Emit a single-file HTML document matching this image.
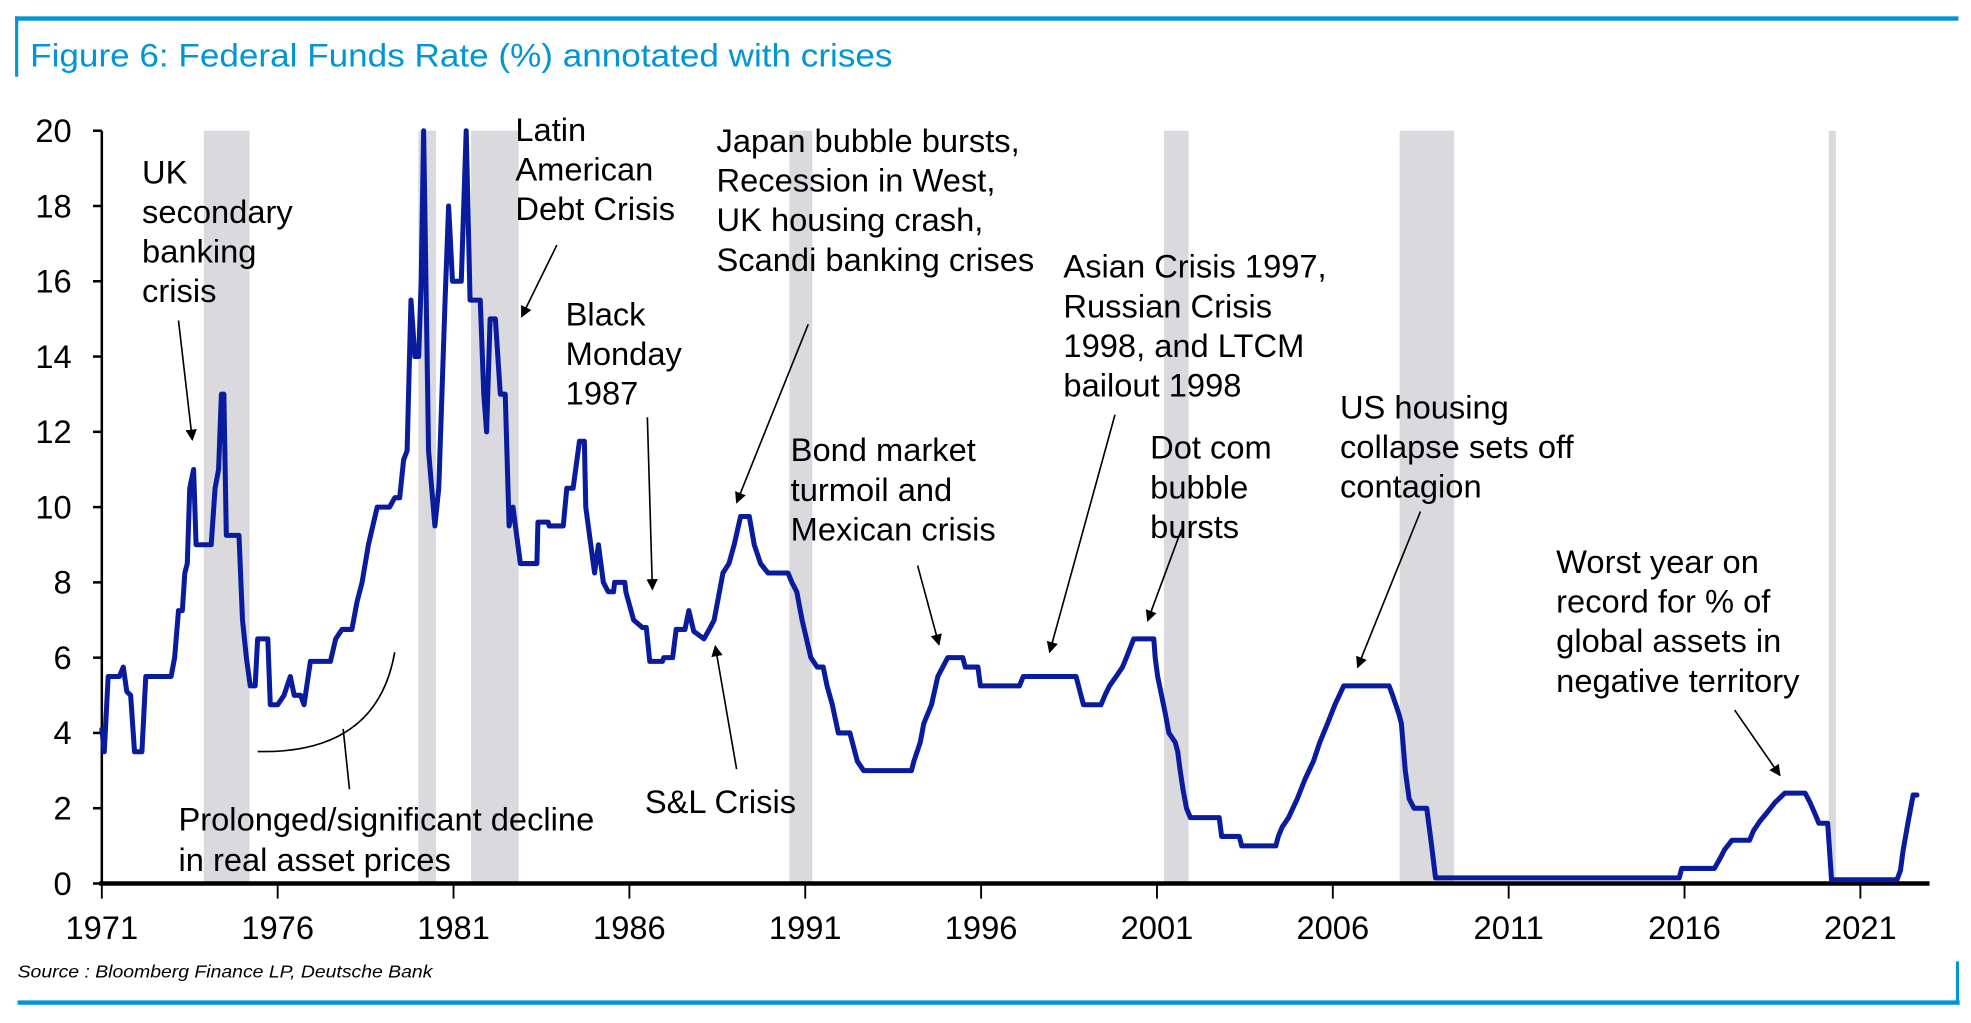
<!DOCTYPE html>
<html><head><meta charset="utf-8"><style>
html,body{margin:0;padding:0;background:#fff;}
svg{display:block;}
text{font-family:"Liberation Sans",sans-serif;fill:#000;}
</style></head><body>
<svg id="chart" width="1971" height="1023" viewBox="0 0 1568 814" preserveAspectRatio="none" xmlns="http://www.w3.org/2000/svg">
<defs><marker id="ah" viewBox="0 0 10 10" refX="9" refY="5" markerWidth="7" markerHeight="7" orient="auto"><path d="M0,0L10,5L0,10z" fill="#000"/></marker></defs>
<g>
<rect x="12" y="13" width="1546" height="3.5" fill="#0096d6"/>
<rect x="12" y="13" width="2.5" height="48" fill="#0096d6"/>
<text x="24" y="53" font-size="26" style="fill:#0096d6" textLength="686" lengthAdjust="spacingAndGlyphs">Figure 6: Federal Funds Rate (%) annotated with crises</text>
</g>
<g id="shades"></g>
<g id="axes"></g>
<g id="series"></g>
<g font-size="26">
<text x="113" y="146">UK<tspan x="113" dy="31.5">secondary</tspan><tspan x="113" dy="31.5">banking</tspan><tspan x="113" dy="31.5">crisis</tspan></text>
<text x="410" y="112">Latin<tspan x="410" dy="31.5">American</tspan><tspan x="410" dy="31.5">Debt Crisis</tspan></text>
<text x="450" y="259">Black<tspan x="450" dy="31.5">Monday</tspan><tspan x="450" dy="31.5">1987</tspan></text>
<text x="570" y="121">Japan bubble bursts,<tspan x="570" dy="31.5">Recession in West,</tspan><tspan x="570" dy="31.5">UK housing crash,</tspan><tspan x="570" dy="31.5">Scandi banking crises</tspan></text>
<text x="846" y="221">Asian Crisis 1997,<tspan x="846" dy="31.5">Russian Crisis</tspan><tspan x="846" dy="31.5">1998, and LTCM</tspan><tspan x="846" dy="31.5">bailout 1998</tspan></text>
<text x="629" y="367">Bond market<tspan x="629" dy="31.5">turmoil and</tspan><tspan x="629" dy="31.5">Mexican crisis</tspan></text>
<text x="915" y="365">Dot com<tspan x="915" dy="31.5">bubble</tspan><tspan x="915" dy="31.5">bursts</tspan></text>
<text x="1066" y="333">US housing<tspan x="1066" dy="31.5">collapse sets off</tspan><tspan x="1066" dy="31.5">contagion</tspan></text>
<text x="1238" y="456">Worst year on<tspan x="1238" dy="31.5">record for % of</tspan><tspan x="1238" dy="31.5">global assets in</tspan><tspan x="1238" dy="31.5">negative territory</tspan></text>
<text x="513" y="647">S&amp;L Crisis</text>
<text x="142" y="661">Prolonged/significant decline<tspan x="142" dy="32">in real asset prices</tspan></text>
</g>
<g stroke="#000" stroke-width="1.3" fill="none">
<line x1="142" y1="255" x2="153" y2="350" marker-end="url(#ah)"/>
<line x1="443" y1="195" x2="415" y2="252" marker-end="url(#ah)"/>
<line x1="515" y1="332" x2="519" y2="469" marker-end="url(#ah)"/>
<line x1="643" y1="258" x2="586" y2="400" marker-end="url(#ah)"/>
<line x1="730" y1="450" x2="747" y2="513" marker-end="url(#ah)"/>
<line x1="887" y1="330" x2="835" y2="519" marker-end="url(#ah)"/>
<line x1="940" y1="421" x2="913" y2="494" marker-end="url(#ah)"/>
<line x1="1130" y1="407" x2="1080" y2="531" marker-end="url(#ah)"/>
<line x1="1380" y1="565" x2="1416" y2="617" marker-end="url(#ah)"/>
<line x1="586" y1="612" x2="569" y2="514" marker-end="url(#ah)"/>
<line x1="278" y1="628" x2="273" y2="580"/>
<path d="M205,598 Q300,600 314,519"/>
</g>
<g>
<text x="14" y="778" font-size="14" font-style="italic" textLength="330" lengthAdjust="spacingAndGlyphs">Source : Bloomberg Finance LP, Deutsche Bank</text>
<rect x="14" y="796" width="1545" height="3.5" fill="#0096d6"/>
<rect x="1556" y="765" width="2.5" height="34" fill="#0096d6"/>
</g>
</svg>
<script>
const years = [1971.00,1971.07,1971.18,1971.50,1971.61,1971.71,1971.82,1971.93,1972.14,1972.25,1972.97,1973.07,1973.18,1973.29,1973.36,1973.43,1973.50,1973.61,1973.68,1974.11,1974.22,1974.32,1974.40,1974.47,1974.54,1974.90,1975.00,1975.11,1975.22,1975.36,1975.43,1975.72,1975.79,1976.00,1976.18,1976.36,1976.47,1976.65,1976.75,1976.93,1977.50,1977.65,1977.83,1978.11,1978.26,1978.40,1978.58,1978.83,1979.18,1979.33,1979.47,1979.58,1979.68,1979.79,1979.90,1980.01,1980.08,1980.15,1980.29,1980.47,1980.58,1980.76,1980.86,1980.97,1981.22,1981.36,1981.47,1981.76,1981.86,1981.94,1982.04,1982.19,1982.33,1982.47,1982.58,1982.69,1982.90,1983.37,1983.40,1983.69,1983.72,1984.12,1984.22,1984.40,1984.58,1984.72,1984.76,1985.01,1985.12,1985.26,1985.40,1985.55,1985.58,1985.87,1985.90,1986.12,1986.37,1986.48,1986.58,1986.94,1986.98,1987.23,1987.33,1987.58,1987.69,1987.83,1988.12,1988.30,1988.41,1988.51,1988.66,1988.83,1988.98,1989.16,1989.41,1989.55,1989.73,1989.94,1990.51,1990.62,1990.76,1990.91,1991.16,1991.34,1991.51,1991.62,1991.77,1991.94,1992.27,1992.34,1992.48,1992.66,1994.02,1994.09,1994.27,1994.37,1994.59,1994.77,1995.05,1995.48,1995.55,1995.91,1995.98,1997.09,1997.20,1998.70,1998.77,1998.91,1999.41,1999.52,1999.65,1999.84,2000.02,2000.13,2000.34,2000.91,2000.95,2001.02,2001.13,2001.24,2001.34,2001.52,2001.59,2001.66,2001.74,2001.84,2001.95,2002.77,2002.84,2003.34,2003.41,2004.38,2004.45,2004.56,2004.74,2004.99,2005.20,2005.45,2005.63,2005.85,2006.06,2006.31,2007.60,2007.70,2007.88,2007.95,2008.06,2008.17,2008.31,2008.67,2008.74,2008.81,2008.92,2015.85,2015.92,2016.85,2017.00,2017.14,2017.35,2017.85,2017.96,2018.14,2018.36,2018.57,2018.85,2019.43,2019.57,2019.71,2019.82,2020.07,2020.18,2022.04,2022.14,2022.21,2022.35,2022.50,2022.61];
const rates = [4.1,3.5,5.5,5.5,5.75,5.1,5.0,3.5,3.5,5.5,5.5,6.0,7.25,7.25,8.25,8.5,10.5,11.0,9.0,9.0,10.5,11.0,13.0,13.0,9.25,9.25,7.0,6.0,5.25,5.25,6.5,6.5,4.75,4.75,5.0,5.5,5.0,5.0,4.75,5.9,5.9,6.5,6.75,6.75,7.5,8.0,9.0,10.0,10.0,10.25,10.25,11.25,11.5,15.5,14.0,14.0,16.0,20.0,11.5,9.5,10.5,15.5,18.0,16.0,16.0,20.0,15.5,15.5,13.0,12.0,15.0,15.0,13.0,13.0,9.5,10.0,8.5,8.5,9.6,9.6,9.5,9.5,10.5,10.5,11.75,11.75,10.0,8.25,9.0,8.0,7.75,7.75,8.0,8.0,7.75,7.0,6.8,6.8,5.9,5.9,6.0,6.0,6.75,6.75,7.25,6.7,6.5,6.8,7.0,7.5,8.25,8.5,9.0,9.75,9.75,9.0,8.5,8.25,8.25,8.0,7.75,7.0,6.0,5.75,5.75,5.25,4.75,4.0,4.0,3.75,3.25,3.0,3.0,3.25,3.75,4.25,4.75,5.5,6.0,6.0,5.75,5.75,5.25,5.25,5.5,5.5,5.25,4.75,4.75,5.0,5.25,5.5,5.75,6.0,6.5,6.5,6.0,5.5,5.0,4.5,4.0,3.75,3.5,3.0,2.5,2.0,1.75,1.75,1.25,1.25,1.0,1.0,1.25,1.5,1.75,2.25,2.75,3.25,3.75,4.25,4.75,5.25,5.25,5.0,4.5,4.25,3.0,2.25,2.0,2.0,1.5,1.0,0.15,0.15,0.4,0.4,0.65,0.9,1.15,1.15,1.4,1.65,1.9,2.15,2.4,2.4,2.15,1.85,1.6,1.6,0.1,0.1,0.35,0.85,1.6,2.35,2.35];
const recStart = [1973.9,1980.0,1981.5,1990.55,2001.2,2007.9,2020.1];
const recEnd = [1975.2,1980.5,1982.85,1991.2,2001.9,2009.45,2020.3];
const yTicks = [0,2,4,6,8,10,12,14,16,18,20];
const xTicks = [1971,1976,1981,1986,1991,1996,2001,2006,2011,2016,2021];

const NS = "http://www.w3.org/2000/svg";
const X0 = 81, PXY = 27.98, Y0 = 703, PXV = 29.95;
function xs(y){ return X0 + (y - 1971) * PXY; }
function ys(v){ return Y0 - v * PXV; }
function mk(tag, attrs){ const e = document.createElementNS(NS, tag); for (const k in attrs) e.setAttribute(k, attrs[k]); return e; }

const shades = document.getElementById('shades');
recStart.forEach((s, i) => {
  const r = mk('rect', {x: xs(s), y: ys(20), width: xs(recEnd[i]) - xs(s), height: ys(0) - ys(20), fill: '#d9d9de'});
  
  
  shades.appendChild(r);
});

const axes = document.getElementById('axes');
const yl = mk('line', {x1: X0, y1: ys(20), x2: X0, y2: Y0, stroke: '#000', 'stroke-width': 2});


axes.appendChild(yl);
yTicks.forEach(v => {
  axes.appendChild(mk('line', {x1: X0 - 7, y1: ys(v), x2: X0, y2: ys(v), stroke: '#000', 'stroke-width': 2}));
  const t = mk('text', {x: 57, y: ys(v) + 9, 'font-size': 26, 'text-anchor': 'end'});
  
  
  t.textContent = v;
  axes.appendChild(t);
});
const xl = mk('line', {x1: X0 - 2, y1: Y0, x2: 1535, y2: Y0, stroke: '#000', 'stroke-width': 3.5});


axes.appendChild(xl);
xTicks.forEach(v => {
  axes.appendChild(mk('line', {x1: xs(v), y1: Y0, x2: xs(v), y2: Y0 + 12, stroke: '#000', 'stroke-width': 1.5}));
  const t = mk('text', {x: xs(v), y: 747, 'font-size': 26, 'text-anchor': 'middle'});
  
  
  t.textContent = v;
  axes.appendChild(t);
});

const series = document.getElementById('series');
let d = '';
years.forEach((y, i) => { d += (i ? 'L' : 'M') + xs(y).toFixed(2) + ',' + ys(rates[i]).toFixed(2); });
const p = mk('path', {d: d, fill: 'none', stroke: '#0a1c9e', 'stroke-width': 4, 'stroke-linejoin': 'round', 'stroke-linecap': 'round'});


series.appendChild(p);
</script>
</body></html>
